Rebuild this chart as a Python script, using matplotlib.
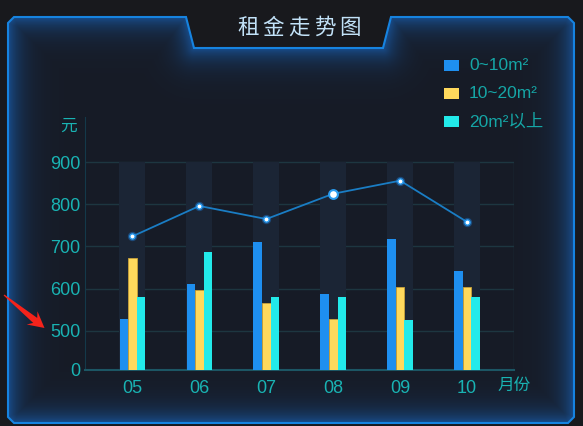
import numpy as np
import matplotlib
matplotlib.use("Agg")
import matplotlib.pyplot as plt
from matplotlib.patches import Polygon, Rectangle

plt.rcParams['font.family'] = ['Liberation Sans', 'Noto Sans CJK SC']

# data
months = ['05', '06', '07', '08', '09', '10']
rent_small = [527, 611, 710, 587, 718, 641]   # 0~10m2
rent_mid = [672, 596, 565, 527, 603, 603]     # 10~20m2
rent_large = [580, 687, 580, 580, 525, 580]   # 20m2以上
rent_avg = [724, 796, 765, 825, 856, 758]
series_names = ['0~10m²', '10~20m²', '20m²以上']
series_colors = ['#1e8ff0', '#ffd95c', '#22eaea']
y_ticks = [407, 500, 600, 700, 800, 900]
y_tick_labels = ['0', '500', '600', '700', '800', '900']

W, H = 583, 426
fig = plt.figure(figsize=(W / 100, H / 100), dpi=100)
fig.patch.set_facecolor('#18191d')

# background layer in pixel coords
bg = fig.add_axes([0, 0, 1, 1])
bg.axis('off')

frame = [(8, 23), (14, 17), (186, 17), (194, 48), (383, 48), (391, 17),
         (568, 17), (574, 23), (574, 417), (568, 423), (14, 423), (8, 417)]
panel = Polygon(frame, closed=True, facecolor='#161b26', edgecolor='none', zorder=0)
bg.add_patch(panel)

# inner blue glow: distance of each pixel to the frame outline
yy, xx = np.mgrid[0:H, 0:W] + 0.5
pts = np.array(frame + [frame[0]], dtype=float)
d = np.full((H, W), 1e9)
for (x0, y0), (x1, y1) in zip(pts[:-1], pts[1:]):
    dx, dy = x1 - x0, y1 - y0
    t = np.clip(((xx - x0) * dx + (yy - y0) * dy) / (dx * dx + dy * dy), 0, 1)
    d = np.minimum(d, np.hypot(xx - (x0 + t * dx), yy - (y0 + t * dy)))
img = np.zeros((H, W, 4))
img[..., 0], img[..., 1], img[..., 2] = 0.10, 0.45, 0.85
img[..., 3] = 0.58 * np.exp(-d / 13)
im = bg.imshow(img, extent=(0, W, H, 0), aspect='auto', zorder=1, interpolation='bilinear')
im.set_clip_path(panel)

bg.add_patch(Polygon(frame, closed=True, facecolor='none', edgecolor='#1683e0', lw=1.5, zorder=2))
bg.set_xlim(0, W)
bg.set_ylim(H, 0)

# title, one char at a time for the wide spacing
for i, ch in enumerate('租金走势图'):
    bg.text(299 + (i - 2) * 25.5, 28, ch, color='#c2e2f8', fontsize=15.5,
            ha='center', va='center', zorder=3)

# legend
for i, (name, col) in enumerate(zip(series_names, series_colors)):
    y = 65 + i * 28.3
    bg.add_patch(Rectangle((444, y - 5.5), 15, 11, facecolor=col, zorder=3))
    bg.text(469, y, name, color='#15a6a6', fontsize=12.5, va='center', ha='left', zorder=3)

bg.text(68.5, 126, '元', color='#19b3b3', fontsize=12, ha='center', va='center', zorder=3)
bg.text(514, 385, '月份', color='#19b3b3', fontsize=12, ha='center', va='center', zorder=3)

# red arrow mark
tail = np.array([4.0, 295.0])
tip = np.array([44.5, 328.0])
u = (tip - tail) / np.linalg.norm(tip - tail)
n = np.array([-u[1], u[0]])
base = tip - 16 * u
notch = tip - 12 * u
arrow_pts = [tail + 0.6 * n, notch + 3.2 * n, base + 8.5 * n, tip,
             base - 8.5 * n, notch - 3.2 * n, tail - 0.6 * n]
bg.add_patch(Polygon(arrow_pts, closed=True, facecolor='#f5231b', edgecolor='none', zorder=4))

# chart
ax = fig.add_axes([84.5 / W, (H - 370) / H, (514 - 84.5) / W, (370 - 117) / H])
ax.set_facecolor('none')
x = np.arange(len(months))
bw = 0.128

ax.bar(x, y_ticks[-1] - y_ticks[0], bottom=y_ticks[0], width=0.39, color='#1b2535', zorder=1)
ax.bar(x - bw, rent_small, width=bw, color=series_colors[0], zorder=3)
ax.bar(x, rent_mid, width=bw, color=series_colors[1], edgecolor='#c9a23a', lw=0.6, zorder=3)
ax.bar(x + bw, rent_large, width=bw, color=series_colors[2], zorder=3)

ax.plot(x, rent_avg, color='#1a7dc4', lw=1.3, zorder=4)
ax.scatter(x, rent_avg, s=45, color='#1e90ff', alpha=0.35, lw=0, zorder=5)
ax.scatter(x, rent_avg, s=14, facecolor='white', edgecolor='#2a9cf0', lw=1.0, zorder=6)
ax.scatter(x[3], rent_avg[3], s=40, facecolor='white', edgecolor='#2a9cf0', lw=1.5, zorder=6)

ax.set_xlim(-0.716, 5.70)
ax.set_ylim(407, 1007)
ax.set_xticks(x, months)
ax.set_yticks(y_ticks, y_tick_labels)
ax.yaxis.grid(True, color='#1d3640', lw=1, zorder=0)
ax.set_axisbelow(True)
ax.vlines(ax.get_xlim()[1], y_ticks[0], y_ticks[-1], color='#1d3640', lw=1, zorder=0)

for s in ['top', 'right']:
    ax.spines[s].set_visible(False)
ax.spines['left'].set_color('#14394a')
ax.spines['bottom'].set_color('#1c5664')
ax.spines['bottom'].set_linewidth(1.5)
ax.tick_params(axis='both', length=0, labelsize=13, labelcolor='#19b3b3')
ax.tick_params(axis='y', pad=3)
ax.tick_params(axis='x', pad=7)

fig.savefig('out.png', dpi=100, facecolor=fig.get_facecolor())
